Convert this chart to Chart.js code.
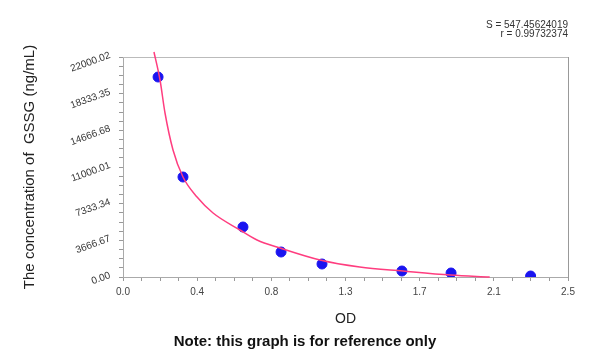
<!DOCTYPE html>
<html>
<head>
<meta charset="utf-8">
<script src="https://cdn.jsdelivr.net/npm/chart.js@4"></script>
<style>
  html, body { margin: 0; padding: 0; background: #fff; }
</style>
</head>
<body>
<canvas id="chart" width="600" height="353"></canvas>
<script>
// standard points (OD vs concentration)
var odValues   = [0.197, 0.337, 0.674, 0.888, 1.118, 1.567, 1.843, 2.29];
var concValues = [20000, 10000, 5000, 2500, 1300, 600, 400, 100];

// fitted curve
var curveOD   = [0.174, 0.208, 0.236, 0.281, 0.337, 0.416, 0.506, 0.657, 0.753, 0.882, 1.107, 1.33, 1.573, 1.84, 2.06];
var curveConc = [22500, 19700, 16400, 12700, 10000, 8000, 6400, 4700, 3700, 2900, 1700, 1000, 600, 200, 0];

// axis ticks
var yTickValues = [0, 3666.67, 7333.34, 11000.01, 14666.68, 18333.35, 22000.02];
var yTickLabels = ['0.00', '3666.67', '7333.34', '11000.01', '14666.68', '18333.35', '22000.02'];
var xTickValues = [0, 2.5 / 6, 5 / 6, 1.25, 10 / 6, 12.5 / 6, 2.5];
var xTickLabels = ['0.0', '0.4', '0.8', '1.3', '1.7', '2.1', '2.5'];

var fitStats = ['S = 547.45624019', 'r = 0.99732374'];

Chart.defaults.font.family = "'Liberation Sans', Arial, sans-serif";

// majors plus 3 minor ticks in between
function withMinor(majors) {
  var out = [];
  for (var i = 0; i < majors.length; i++) {
    out.push({ value: majors[i], major: true });
    if (i < majors.length - 1) {
      var step = (majors[i + 1] - majors[i]) / 4;
      for (var k = 1; k < 4; k++) out.push({ value: majors[i] + step * k, major: false });
    }
  }
  return out;
}

var slantedYLabels = {
  id: 'slantedYLabels',
  afterDraw: function (chart) {
    var s = chart.scales.y, ctx = chart.ctx;
    ctx.save();
    ctx.font = "10px 'Liberation Sans', Arial, sans-serif";
    ctx.fillStyle = '#333';
    ctx.textAlign = 'right';
    ctx.textBaseline = 'middle';
    yTickValues.forEach(function (v, i) {
      var py = s.getPixelForValue(v);
      ctx.save();
      ctx.translate(s.right - 13, py - 2);
      ctx.rotate(-20 * Math.PI / 180);
      ctx.fillText(yTickLabels[i], 0, 0);
      ctx.restore();
    });
    ctx.restore();
  }
};

var points = odValues.map(function (x, i) { return { x: x, y: concValues[i] }; });
var curve = curveOD.map(function (x, i) { return { x: x, y: curveConc[i] }; });

new Chart(document.getElementById('chart'), {
  type: 'scatter',
  data: {
    datasets: [{
      data: curve,
      showLine: true,
      borderColor: '#ff3d7f',
      borderWidth: 1.5,
      pointRadius: 0,
      cubicInterpolationMode: 'monotone',
      clip: false,
      order: 0
    }, {
      data: points,
      backgroundColor: '#1a14f0',
      borderColor: '#1a14f0',
      pointRadius: 5,
      order: 1
    }]
  },
  options: {
    responsive: false,
    animation: false,
    layout: { padding: { left: 10, right: 0, top: 0, bottom: 0 } },
    plugins: {
      legend: { display: false },
      tooltip: { enabled: false },
      subtitle: {
        display: true,
        position: 'top',
        align: 'end',
        fullSize: false,
        text: fitStats,
        color: '#333',
        font: { size: 10, lineHeight: 0.9 },
        padding: { top: 21, bottom: 18 }
      },
      title: {
        display: true,
        position: 'bottom',
        text: 'Note: this graph is for reference only',
        color: '#111',
        font: { size: 15, weight: 'bold' },
        padding: { top: 0, bottom: 2 }
      }
    },
    scales: {
      x: {
        type: 'linear',
        min: 0,
        max: 2.5,
        afterFit: function (s) { s.height = 56; },
        afterBuildTicks: function (s) { s.ticks = withMinor(xTickValues); },
        ticks: {
          autoSkip: false,
          maxRotation: 0,
          color: '#444',
          font: { size: 10 },
          padding: 5,
          callback: function (v, i) { return i % 4 === 0 ? xTickLabels[i / 4] : ''; }
        },
        grid: { drawOnChartArea: false, tickLength: 4, tickColor: '#999' },
        border: { color: '#aaa' },
        title: {
          display: true,
          text: 'OD',
          color: '#222',
          font: { size: 14 },
          padding: { top: 0, bottom: 5 }
        }
      },
      y: {
        min: 0,
        max: 22000.02,
        afterFit: function (s) { s.width = 113; },
        afterBuildTicks: function (s) { s.ticks = withMinor(yTickValues); },
        ticks: {
          autoSkip: false,
          color: 'rgba(0,0,0,0)',
          font: { size: 9 },
          callback: function () { return ''; }
        },
        grid: { drawOnChartArea: false, tickLength: 4, tickColor: '#999' },
        border: { color: '#aaa' },
        title: {
          display: true,
          text: 'The concentration of  GSSG (ng/mL)',
          color: '#222',
          font: { size: 15 },
          padding: { top: 11, bottom: 0 }
        }
      },
      x2: {
        type: 'linear',
        position: 'top',
        min: 0,
        max: 2.5,
        ticks: { display: false },
        grid: { drawOnChartArea: false, drawTicks: false },
        border: { color: '#bbb' }
      },
      y2: {
        type: 'linear',
        position: 'right',
        min: 0,
        max: 22000.02,
        afterFit: function (s) { s.width = 32; },
        ticks: { display: false },
        grid: { drawOnChartArea: false, drawTicks: false },
        border: { color: '#999' }
      }
    }
  },
  plugins: [slantedYLabels]
});
</script>
</body>
</html>
